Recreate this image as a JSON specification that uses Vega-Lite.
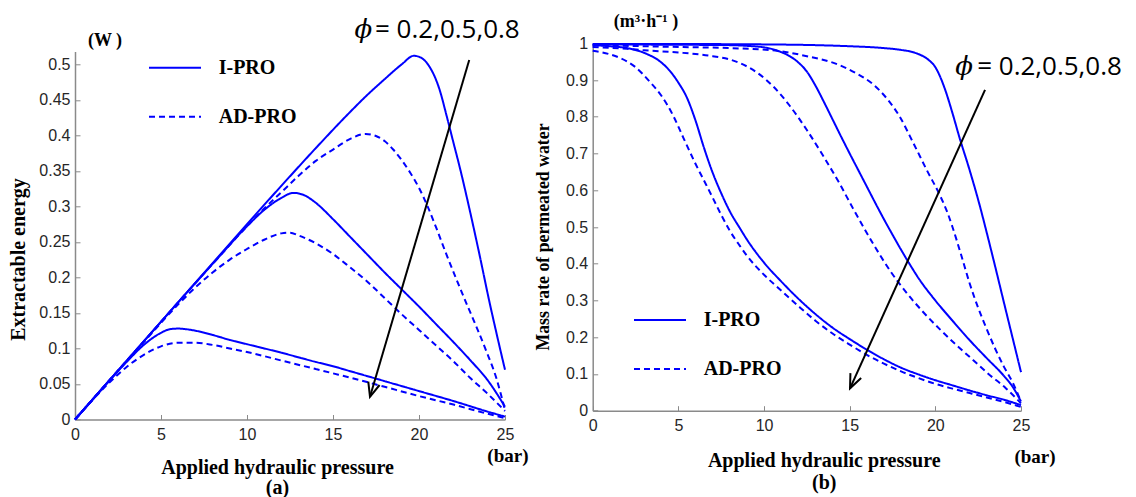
{
  "$schema": "https://vega.github.io/schema/vega-lite/v6.json",
  "width": 946,
  "height": 376.2,
  "autosize": {"type": "none"},
  "padding": {"left": 75, "top": 43.3, "right": 115, "bottom": 77.5},
  "background": "white",
  "config": {
    "view": {"stroke": null},
    "axis": {
      "grid": false,
      "domainColor": "#8a8a8a",
      "domainWidth": 1.5,
      "tickColor": "#8a8a8a",
      "tickWidth": 1,
      "tickSize": -5,
      "labelFont": "Liberation Sans",
      "labelFontSize": 16,
      "labelColor": "#262626",
      "labelFlush": false,
      "labelOverlap": false,
      "titleFont": "Liberation Serif",
      "titleFontWeight": "bold",
      "titleColor": "#000000"
    },
    "legend": {
      "labelFont": "Liberation Serif",
      "labelFontWeight": "bold",
      "labelFontSize": 20,
      "labelColor": "#000000"
    }
  },
  "datasets": {
    "energy": [
      {"type":"I-PRO","phi":0.2,"x":0,"y":0},{"type":"I-PRO","phi":0.2,"x":1,"y":0.0275},{"type":"I-PRO","phi":0.2,"x":2,"y":0.055},{"type":"I-PRO","phi":0.2,"x":3,"y":0.081},{"type":"I-PRO","phi":0.2,"x":4,"y":0.105},{"type":"I-PRO","phi":0.2,"x":5,"y":0.122},{"type":"I-PRO","phi":0.2,"x":5.5,"y":0.127},{"type":"I-PRO","phi":0.2,"x":6,"y":0.128},{"type":"I-PRO","phi":0.2,"x":6.5,"y":0.127},{"type":"I-PRO","phi":0.2,"x":7,"y":0.125},{"type":"I-PRO","phi":0.2,"x":8,"y":0.119},{"type":"I-PRO","phi":0.2,"x":9,"y":0.112},{"type":"I-PRO","phi":0.2,"x":10,"y":0.106},{"type":"I-PRO","phi":0.2,"x":12,"y":0.094},{"type":"I-PRO","phi":0.2,"x":14,"y":0.081},{"type":"I-PRO","phi":0.2,"x":15,"y":0.075},{"type":"I-PRO","phi":0.2,"x":16,"y":0.068},{"type":"I-PRO","phi":0.2,"x":18,"y":0.054},{"type":"I-PRO","phi":0.2,"x":20,"y":0.04},{"type":"I-PRO","phi":0.2,"x":22,"y":0.026},{"type":"I-PRO","phi":0.2,"x":24,"y":0.011},{"type":"I-PRO","phi":0.2,"x":25,"y":0.004},
      {"type":"AD-PRO","phi":0.2,"x":0,"y":0},{"type":"AD-PRO","phi":0.2,"x":1,"y":0.027},{"type":"AD-PRO","phi":0.2,"x":2,"y":0.052},{"type":"AD-PRO","phi":0.2,"x":3,"y":0.074},{"type":"AD-PRO","phi":0.2,"x":4,"y":0.091},{"type":"AD-PRO","phi":0.2,"x":5,"y":0.103},{"type":"AD-PRO","phi":0.2,"x":6,"y":0.108},{"type":"AD-PRO","phi":0.2,"x":7,"y":0.108},{"type":"AD-PRO","phi":0.2,"x":8,"y":0.105},{"type":"AD-PRO","phi":0.2,"x":9,"y":0.1},{"type":"AD-PRO","phi":0.2,"x":10,"y":0.095},{"type":"AD-PRO","phi":0.2,"x":12,"y":0.083},{"type":"AD-PRO","phi":0.2,"x":14,"y":0.071},{"type":"AD-PRO","phi":0.2,"x":15,"y":0.065},{"type":"AD-PRO","phi":0.2,"x":16,"y":0.059},{"type":"AD-PRO","phi":0.2,"x":18,"y":0.046},{"type":"AD-PRO","phi":0.2,"x":20,"y":0.033},{"type":"AD-PRO","phi":0.2,"x":22,"y":0.021},{"type":"AD-PRO","phi":0.2,"x":24,"y":0.008},{"type":"AD-PRO","phi":0.2,"x":25,"y":0.002},
      {"type":"I-PRO","phi":0.5,"x":0,"y":0},{"type":"I-PRO","phi":0.5,"x":2,"y":0.055},{"type":"I-PRO","phi":0.5,"x":4,"y":0.11},{"type":"I-PRO","phi":0.5,"x":6,"y":0.165},{"type":"I-PRO","phi":0.5,"x":8,"y":0.219},{"type":"I-PRO","phi":0.5,"x":10,"y":0.272},{"type":"I-PRO","phi":0.5,"x":11,"y":0.295},{"type":"I-PRO","phi":0.5,"x":12,"y":0.312},{"type":"I-PRO","phi":0.5,"x":12.7,"y":0.319},{"type":"I-PRO","phi":0.5,"x":13.3,"y":0.316},{"type":"I-PRO","phi":0.5,"x":14,"y":0.305},{"type":"I-PRO","phi":0.5,"x":15,"y":0.282},{"type":"I-PRO","phi":0.5,"x":16,"y":0.257},{"type":"I-PRO","phi":0.5,"x":17,"y":0.232},{"type":"I-PRO","phi":0.5,"x":18,"y":0.207},{"type":"I-PRO","phi":0.5,"x":19,"y":0.183},{"type":"I-PRO","phi":0.5,"x":20,"y":0.159},{"type":"I-PRO","phi":0.5,"x":21,"y":0.134},{"type":"I-PRO","phi":0.5,"x":22,"y":0.109},{"type":"I-PRO","phi":0.5,"x":23,"y":0.083},{"type":"I-PRO","phi":0.5,"x":24,"y":0.055},{"type":"I-PRO","phi":0.5,"x":25,"y":0.018},
      {"type":"AD-PRO","phi":0.5,"x":0,"y":0},{"type":"AD-PRO","phi":0.5,"x":2,"y":0.055},{"type":"AD-PRO","phi":0.5,"x":4,"y":0.109},{"type":"AD-PRO","phi":0.5,"x":6,"y":0.162},{"type":"AD-PRO","phi":0.5,"x":7,"y":0.186},{"type":"AD-PRO","phi":0.5,"x":8,"y":0.207},{"type":"AD-PRO","phi":0.5,"x":9,"y":0.225},{"type":"AD-PRO","phi":0.5,"x":10,"y":0.24},{"type":"AD-PRO","phi":0.5,"x":11,"y":0.253},{"type":"AD-PRO","phi":0.5,"x":12,"y":0.262},{"type":"AD-PRO","phi":0.5,"x":12.5,"y":0.263},{"type":"AD-PRO","phi":0.5,"x":13,"y":0.259},{"type":"AD-PRO","phi":0.5,"x":14,"y":0.248},{"type":"AD-PRO","phi":0.5,"x":15,"y":0.233},{"type":"AD-PRO","phi":0.5,"x":16,"y":0.214},{"type":"AD-PRO","phi":0.5,"x":17,"y":0.194},{"type":"AD-PRO","phi":0.5,"x":18,"y":0.171},{"type":"AD-PRO","phi":0.5,"x":19,"y":0.148},{"type":"AD-PRO","phi":0.5,"x":20,"y":0.126},{"type":"AD-PRO","phi":0.5,"x":21,"y":0.104},{"type":"AD-PRO","phi":0.5,"x":22,"y":0.082},{"type":"AD-PRO","phi":0.5,"x":23,"y":0.058},{"type":"AD-PRO","phi":0.5,"x":24,"y":0.036},{"type":"AD-PRO","phi":0.5,"x":25,"y":0.012},
      {"type":"I-PRO","phi":0.8,"x":0,"y":0},{"type":"I-PRO","phi":0.8,"x":2,"y":0.055},{"type":"I-PRO","phi":0.8,"x":4,"y":0.11},{"type":"I-PRO","phi":0.8,"x":6,"y":0.165},{"type":"I-PRO","phi":0.8,"x":8,"y":0.22},{"type":"I-PRO","phi":0.8,"x":10,"y":0.275},{"type":"I-PRO","phi":0.8,"x":12,"y":0.329},{"type":"I-PRO","phi":0.8,"x":14,"y":0.382},{"type":"I-PRO","phi":0.8,"x":16,"y":0.433},{"type":"I-PRO","phi":0.8,"x":17,"y":0.457},{"type":"I-PRO","phi":0.8,"x":18,"y":0.479},{"type":"I-PRO","phi":0.8,"x":19,"y":0.5},{"type":"I-PRO","phi":0.8,"x":19.7,"y":0.512},{"type":"I-PRO","phi":0.8,"x":20.2,"y":0.508},{"type":"I-PRO","phi":0.8,"x":20.6,"y":0.497},{"type":"I-PRO","phi":0.8,"x":21.2,"y":0.464},{"type":"I-PRO","phi":0.8,"x":21.6,"y":0.428},{"type":"I-PRO","phi":0.8,"x":22,"y":0.39},{"type":"I-PRO","phi":0.8,"x":22.4,"y":0.352},{"type":"I-PRO","phi":0.8,"x":22.9,"y":0.3},{"type":"I-PRO","phi":0.8,"x":23.5,"y":0.234},{"type":"I-PRO","phi":0.8,"x":24.1,"y":0.165},{"type":"I-PRO","phi":0.8,"x":24.5,"y":0.122},{"type":"I-PRO","phi":0.8,"x":25,"y":0.07},
      {"type":"AD-PRO","phi":0.8,"x":0,"y":0},{"type":"AD-PRO","phi":0.8,"x":2,"y":0.055},{"type":"AD-PRO","phi":0.8,"x":4,"y":0.11},{"type":"AD-PRO","phi":0.8,"x":6,"y":0.165},{"type":"AD-PRO","phi":0.8,"x":8,"y":0.219},{"type":"AD-PRO","phi":0.8,"x":10,"y":0.272},{"type":"AD-PRO","phi":0.8,"x":11,"y":0.297},{"type":"AD-PRO","phi":0.8,"x":12,"y":0.32},{"type":"AD-PRO","phi":0.8,"x":13,"y":0.343},{"type":"AD-PRO","phi":0.8,"x":14,"y":0.364},{"type":"AD-PRO","phi":0.8,"x":15,"y":0.38},{"type":"AD-PRO","phi":0.8,"x":16,"y":0.395},{"type":"AD-PRO","phi":0.8,"x":16.9,"y":0.402},{"type":"AD-PRO","phi":0.8,"x":17.5,"y":0.399},{"type":"AD-PRO","phi":0.8,"x":18,"y":0.392},{"type":"AD-PRO","phi":0.8,"x":18.5,"y":0.38},{"type":"AD-PRO","phi":0.8,"x":19,"y":0.365},{"type":"AD-PRO","phi":0.8,"x":19.5,"y":0.347},{"type":"AD-PRO","phi":0.8,"x":20,"y":0.326},{"type":"AD-PRO","phi":0.8,"x":20.5,"y":0.3},{"type":"AD-PRO","phi":0.8,"x":21,"y":0.27},{"type":"AD-PRO","phi":0.8,"x":21.6,"y":0.232},{"type":"AD-PRO","phi":0.8,"x":22.2,"y":0.196},{"type":"AD-PRO","phi":0.8,"x":22.8,"y":0.161},{"type":"AD-PRO","phi":0.8,"x":23.4,"y":0.127},{"type":"AD-PRO","phi":0.8,"x":23.9,"y":0.097},{"type":"AD-PRO","phi":0.8,"x":24.5,"y":0.058},{"type":"AD-PRO","phi":0.8,"x":25,"y":0.013}
    ],
    "flow": [
      {"type":"I-PRO","phi":0.2,"x":0,"y":0.995},{"type":"I-PRO","phi":0.2,"x":1,"y":0.992},{"type":"I-PRO","phi":0.2,"x":2,"y":0.987},{"type":"I-PRO","phi":0.2,"x":3,"y":0.974},{"type":"I-PRO","phi":0.2,"x":4,"y":0.948},{"type":"I-PRO","phi":0.2,"x":4.5,"y":0.925},{"type":"I-PRO","phi":0.2,"x":5,"y":0.893},{"type":"I-PRO","phi":0.2,"x":5.5,"y":0.852},{"type":"I-PRO","phi":0.2,"x":6,"y":0.79},{"type":"I-PRO","phi":0.2,"x":6.5,"y":0.715},{"type":"I-PRO","phi":0.2,"x":7,"y":0.648},{"type":"I-PRO","phi":0.2,"x":7.5,"y":0.592},{"type":"I-PRO","phi":0.2,"x":8,"y":0.543},{"type":"I-PRO","phi":0.2,"x":8.6,"y":0.496},{"type":"I-PRO","phi":0.2,"x":9,"y":0.466},{"type":"I-PRO","phi":0.2,"x":10,"y":0.403},{"type":"I-PRO","phi":0.2,"x":11,"y":0.352},{"type":"I-PRO","phi":0.2,"x":12,"y":0.305},{"type":"I-PRO","phi":0.2,"x":13,"y":0.263},{"type":"I-PRO","phi":0.2,"x":14,"y":0.226},{"type":"I-PRO","phi":0.2,"x":15,"y":0.195},{"type":"I-PRO","phi":0.2,"x":16,"y":0.166},{"type":"I-PRO","phi":0.2,"x":17,"y":0.14},{"type":"I-PRO","phi":0.2,"x":18,"y":0.117},{"type":"I-PRO","phi":0.2,"x":19,"y":0.099},{"type":"I-PRO","phi":0.2,"x":20,"y":0.083},{"type":"I-PRO","phi":0.2,"x":21,"y":0.069},{"type":"I-PRO","phi":0.2,"x":22,"y":0.055},{"type":"I-PRO","phi":0.2,"x":23,"y":0.042},{"type":"I-PRO","phi":0.2,"x":24,"y":0.03},{"type":"I-PRO","phi":0.2,"x":25,"y":0.015},
      {"type":"AD-PRO","phi":0.2,"x":0,"y":0.98},{"type":"AD-PRO","phi":0.2,"x":1,"y":0.97},{"type":"AD-PRO","phi":0.2,"x":1.6,"y":0.96},{"type":"AD-PRO","phi":0.2,"x":2.5,"y":0.935},{"type":"AD-PRO","phi":0.2,"x":3.3,"y":0.897},{"type":"AD-PRO","phi":0.2,"x":4,"y":0.858},{"type":"AD-PRO","phi":0.2,"x":4.7,"y":0.803},{"type":"AD-PRO","phi":0.2,"x":5.3,"y":0.742},{"type":"AD-PRO","phi":0.2,"x":6,"y":0.672},{"type":"AD-PRO","phi":0.2,"x":6.6,"y":0.617},{"type":"AD-PRO","phi":0.2,"x":7,"y":0.58},{"type":"AD-PRO","phi":0.2,"x":7.5,"y":0.533},{"type":"AD-PRO","phi":0.2,"x":8,"y":0.49},{"type":"AD-PRO","phi":0.2,"x":8.6,"y":0.448},{"type":"AD-PRO","phi":0.2,"x":9,"y":0.422},{"type":"AD-PRO","phi":0.2,"x":10,"y":0.37},{"type":"AD-PRO","phi":0.2,"x":11,"y":0.327},{"type":"AD-PRO","phi":0.2,"x":12,"y":0.285},{"type":"AD-PRO","phi":0.2,"x":13,"y":0.245},{"type":"AD-PRO","phi":0.2,"x":14,"y":0.21},{"type":"AD-PRO","phi":0.2,"x":15,"y":0.18},{"type":"AD-PRO","phi":0.2,"x":16,"y":0.152},{"type":"AD-PRO","phi":0.2,"x":17,"y":0.128},{"type":"AD-PRO","phi":0.2,"x":18,"y":0.107},{"type":"AD-PRO","phi":0.2,"x":19,"y":0.089},{"type":"AD-PRO","phi":0.2,"x":20,"y":0.073},{"type":"AD-PRO","phi":0.2,"x":21,"y":0.06},{"type":"AD-PRO","phi":0.2,"x":22,"y":0.048},{"type":"AD-PRO","phi":0.2,"x":23,"y":0.036},{"type":"AD-PRO","phi":0.2,"x":24,"y":0.024},{"type":"AD-PRO","phi":0.2,"x":25,"y":0.01},
      {"type":"I-PRO","phi":0.5,"x":0,"y":0.997},{"type":"I-PRO","phi":0.5,"x":5,"y":0.996},{"type":"I-PRO","phi":0.5,"x":8,"y":0.995},{"type":"I-PRO","phi":0.5,"x":9,"y":0.993},{"type":"I-PRO","phi":0.5,"x":10,"y":0.989},{"type":"I-PRO","phi":0.5,"x":10.5,"y":0.984},{"type":"I-PRO","phi":0.5,"x":11,"y":0.976},{"type":"I-PRO","phi":0.5,"x":11.5,"y":0.965},{"type":"I-PRO","phi":0.5,"x":12,"y":0.948},{"type":"I-PRO","phi":0.5,"x":12.5,"y":0.923},{"type":"I-PRO","phi":0.5,"x":13,"y":0.885},{"type":"I-PRO","phi":0.5,"x":13.5,"y":0.84},{"type":"I-PRO","phi":0.5,"x":14,"y":0.793},{"type":"I-PRO","phi":0.5,"x":14.5,"y":0.746},{"type":"I-PRO","phi":0.5,"x":15,"y":0.7},{"type":"I-PRO","phi":0.5,"x":15.5,"y":0.655},{"type":"I-PRO","phi":0.5,"x":16,"y":0.61},{"type":"I-PRO","phi":0.5,"x":16.5,"y":0.565},{"type":"I-PRO","phi":0.5,"x":17,"y":0.521},{"type":"I-PRO","phi":0.5,"x":17.5,"y":0.479},{"type":"I-PRO","phi":0.5,"x":18,"y":0.438},{"type":"I-PRO","phi":0.5,"x":18.5,"y":0.399},{"type":"I-PRO","phi":0.5,"x":19,"y":0.362},{"type":"I-PRO","phi":0.5,"x":20,"y":0.3},{"type":"I-PRO","phi":0.5,"x":21,"y":0.245},{"type":"I-PRO","phi":0.5,"x":22,"y":0.192},{"type":"I-PRO","phi":0.5,"x":23,"y":0.143},{"type":"I-PRO","phi":0.5,"x":24,"y":0.095},{"type":"I-PRO","phi":0.5,"x":24.5,"y":0.066},{"type":"I-PRO","phi":0.5,"x":25,"y":0.025},
      {"type":"AD-PRO","phi":0.5,"x":0,"y":0.99},{"type":"AD-PRO","phi":0.5,"x":2,"y":0.985},{"type":"AD-PRO","phi":0.5,"x":3,"y":0.981},{"type":"AD-PRO","phi":0.5,"x":5,"y":0.975},{"type":"AD-PRO","phi":0.5,"x":7,"y":0.965},{"type":"AD-PRO","phi":0.5,"x":8,"y":0.956},{"type":"AD-PRO","phi":0.5,"x":8.6,"y":0.946},{"type":"AD-PRO","phi":0.5,"x":9.6,"y":0.92},{"type":"AD-PRO","phi":0.5,"x":10.55,"y":0.882},{"type":"AD-PRO","phi":0.5,"x":11.5,"y":0.83},{"type":"AD-PRO","phi":0.5,"x":12.5,"y":0.764},{"type":"AD-PRO","phi":0.5,"x":13.5,"y":0.69},{"type":"AD-PRO","phi":0.5,"x":14.4,"y":0.619},{"type":"AD-PRO","phi":0.5,"x":15.2,"y":0.55},{"type":"AD-PRO","phi":0.5,"x":15.8,"y":0.5},{"type":"AD-PRO","phi":0.5,"x":16.4,"y":0.452},{"type":"AD-PRO","phi":0.5,"x":17.4,"y":0.378},{"type":"AD-PRO","phi":0.5,"x":18.3,"y":0.322},{"type":"AD-PRO","phi":0.5,"x":19.3,"y":0.268},{"type":"AD-PRO","phi":0.5,"x":20.3,"y":0.22},{"type":"AD-PRO","phi":0.5,"x":21.2,"y":0.18},{"type":"AD-PRO","phi":0.5,"x":22.2,"y":0.138},{"type":"AD-PRO","phi":0.5,"x":23.1,"y":0.1},{"type":"AD-PRO","phi":0.5,"x":24.1,"y":0.062},{"type":"AD-PRO","phi":0.5,"x":25,"y":0.02},
      {"type":"I-PRO","phi":0.8,"x":0,"y":0.998},{"type":"I-PRO","phi":0.8,"x":5,"y":0.998},{"type":"I-PRO","phi":0.8,"x":10,"y":0.997},{"type":"I-PRO","phi":0.8,"x":13,"y":0.995},{"type":"I-PRO","phi":0.8,"x":15,"y":0.992},{"type":"I-PRO","phi":0.8,"x":17,"y":0.987},{"type":"I-PRO","phi":0.8,"x":18,"y":0.982},{"type":"I-PRO","phi":0.8,"x":18.6,"y":0.977},{"type":"I-PRO","phi":0.8,"x":19.1,"y":0.969},{"type":"I-PRO","phi":0.8,"x":19.6,"y":0.955},{"type":"I-PRO","phi":0.8,"x":20,"y":0.935},{"type":"I-PRO","phi":0.8,"x":20.3,"y":0.907},{"type":"I-PRO","phi":0.8,"x":20.6,"y":0.87},{"type":"I-PRO","phi":0.8,"x":21,"y":0.81},{"type":"I-PRO","phi":0.8,"x":21.4,"y":0.745},{"type":"I-PRO","phi":0.8,"x":22,"y":0.655},{"type":"I-PRO","phi":0.8,"x":22.6,"y":0.557},{"type":"I-PRO","phi":0.8,"x":22.9,"y":0.503},{"type":"I-PRO","phi":0.8,"x":23.4,"y":0.41},{"type":"I-PRO","phi":0.8,"x":24.1,"y":0.276},{"type":"I-PRO","phi":0.8,"x":24.5,"y":0.2},{"type":"I-PRO","phi":0.8,"x":25,"y":0.105},
      {"type":"AD-PRO","phi":0.8,"x":0,"y":0.995},{"type":"AD-PRO","phi":0.8,"x":5,"y":0.99},{"type":"AD-PRO","phi":0.8,"x":8,"y":0.987},{"type":"AD-PRO","phi":0.8,"x":10.5,"y":0.981},{"type":"AD-PRO","phi":0.8,"x":12.5,"y":0.965},{"type":"AD-PRO","phi":0.8,"x":14.1,"y":0.946},{"type":"AD-PRO","phi":0.8,"x":15.4,"y":0.918},{"type":"AD-PRO","phi":0.8,"x":16.4,"y":0.887},{"type":"AD-PRO","phi":0.8,"x":17.2,"y":0.848},{"type":"AD-PRO","phi":0.8,"x":17.9,"y":0.802},{"type":"AD-PRO","phi":0.8,"x":18.7,"y":0.73},{"type":"AD-PRO","phi":0.8,"x":19.5,"y":0.655},{"type":"AD-PRO","phi":0.8,"x":20.3,"y":0.583},{"type":"AD-PRO","phi":0.8,"x":20.7,"y":0.54},{"type":"AD-PRO","phi":0.8,"x":21,"y":0.5},{"type":"AD-PRO","phi":0.8,"x":21.5,"y":0.425},{"type":"AD-PRO","phi":0.8,"x":22,"y":0.347},{"type":"AD-PRO","phi":0.8,"x":22.5,"y":0.28},{"type":"AD-PRO","phi":0.8,"x":23,"y":0.222},{"type":"AD-PRO","phi":0.8,"x":23.5,"y":0.168},{"type":"AD-PRO","phi":0.8,"x":24,"y":0.12},{"type":"AD-PRO","phi":0.8,"x":24.5,"y":0.078},{"type":"AD-PRO","phi":0.8,"x":25,"y":0.025}
    ]
  },
  "layer": [
    {
      "layer": [
        {
          "data": {"name": "energy"},
          "mark": {"type": "line", "color": "#0000ff", "strokeWidth": 2, "interpolate": "monotone"},
          "encoding": {
            "x": {"field": "x", "type": "quantitative",
              "scale": {"domain": [0, 25], "range": [0, 430], "nice": false},
              "axis": {"orient": "bottom", "values": [0, 5, 10, 15, 20, 25], "tickCount": 30, "labelPadding": 12, "labelOverlap": false, "labelFlush": false,
                "title": ["Applied hydraulic pressure", "(a)"], "titleFontSize": 20, "titleX": 202, "titleY": 54,
                "titleBaseline": "alphabetic", "titleAlign": "center", "titleLineHeight": 20}},
            "y": {"field": "y", "type": "quantitative",
              "scale": {"domain": [0, 0.518], "range": [376.2, 8.2], "nice": false, "zero": false},
              "axis": {"orient": "left", "values": [0, 0.05, 0.1, 0.15, 0.2, 0.25, 0.3, 0.35, 0.4, 0.45, 0.5], "tickCount": 30, "format": "~g", "labelPadding": 10, "labelOverlap": false,
                "title": "Extractable energy", "titleFontSize": 20, "titleX": -56.7, "titleY": 215.7,
                "titleAngle": 270, "titleBaseline": "middle", "titleAlign": "center"}},
            "strokeDash": {"field": "type", "type": "nominal",
              "scale": {"domain": ["I-PRO", "AD-PRO"], "range": [[1, 0], [6, 4]]},
              "legend": {"orient": "none", "legendX": 73, "legendY": -2.6, "title": null, "padding": 0,
                "symbolType": "stroke", "symbolSize": 2704, "symbolStrokeColor": "#0000ff", "symbolStrokeWidth": 2,
                "labelOffset": 16.7, "rowPadding": 12}},
            "detail": {"field": "phi", "type": "nominal"}
          }
        },
        {
          "data": {"values": [{}]},
          "mark": {"type": "rule", "color": "#000000", "strokeWidth": 2},
          "encoding": {
            "x": {"datum": 22.92, "type": "quantitative"}, "y": {"datum": 0.506, "type": "quantitative"},
            "x2": {"datum": 17.15}, "y2": {"datum": 0.032}
          }
        },
        {
          "data": {"values": [{}]},
          "mark": {"type": "point", "shape": "M-0.42,-1L0,0L0.42,-1", "filled": false, "stroke": "#000000", "strokeWidth": 2, "size": 784, "angle": 16.4, "opacity": 1},
          "encoding": {"x": {"datum": 17.15, "type": "quantitative"}, "y": {"datum": 0.032, "type": "quantitative"}}
        },
        {
          "data": {"values": [{}]},
          "mark": {"type": "text", "text": "ϕ", "font": "DejaVu Serif", "fontStyle": "italic", "fontSize": 26, "align": "center", "baseline": "alphabetic", "color": "#000000"},
          "encoding": {"x": {"datum": 16.77, "type": "quantitative"}, "y": {"datum": 0.537, "type": "quantitative"}}
        },
        {
          "data": {"values": [{}]},
          "mark": {"type": "text", "text": "= 0.2,0.5,0.8", "font": "Open Sans", "fontSize": 26, "align": "left", "baseline": "alphabetic", "color": "#000000"},
          "encoding": {"x": {"datum": 17.44, "type": "quantitative"}, "y": {"datum": 0.537, "type": "quantitative"}}
        },
        {
          "data": {"values": [{}]},
          "mark": {"type": "text", "text": "(W )", "font": "Liberation Serif", "fontWeight": "bold", "fontSize": 18, "align": "center", "baseline": "alphabetic", "color": "#000000"},
          "encoding": {"x": {"datum": 1.744, "type": "quantitative"}, "y": {"datum": 0.526, "type": "quantitative"}}
        },
        {
          "data": {"values": [{}]},
          "mark": {"type": "text", "text": "(bar)", "font": "Liberation Serif", "fontWeight": "bold", "fontSize": 19, "align": "center", "baseline": "alphabetic", "color": "#000000"},
          "encoding": {"x": {"datum": 25.17, "type": "quantitative"}, "y": {"datum": -0.06, "type": "quantitative"}}
        }
      ]
    },
    {
      "layer": [
        {
          "data": {"name": "flow"},
          "mark": {"type": "line", "color": "#0000ff", "strokeWidth": 2, "interpolate": "monotone"},
          "encoding": {
            "x": {"field": "x", "type": "quantitative",
              "scale": {"domain": [0, 25], "range": [517.7, 946], "nice": false},
              "axis": {"orient": "bottom", "offset": -8.8, "values": [0, 5, 10, 15, 20, 25], "tickCount": 30, "labelPadding": 12, "labelOverlap": false, "labelFlush": false,
                "title": ["Applied hydraulic pressure", "(b)"], "titleFontSize": 20, "titleX": 748.7, "titleY": 56,
                "titleBaseline": "alphabetic", "titleAlign": "center", "titleLineHeight": 22}},
            "y": {"field": "y", "type": "quantitative",
              "scale": {"domain": [0, 1], "range": [367.4, 0], "nice": false, "zero": false},
              "axis": {"orient": "left", "offset": -517.7, "values": [0, 0.1, 0.2, 0.3, 0.4, 0.5, 0.6, 0.7, 0.8, 0.9, 1], "tickCount": 30, "format": "~g", "labelPadding": 10, "labelOverlap": false,
                "title": "Mass rate of permeated water", "titleFontSize": 17.8, "titleX": -49.7, "titleY": 193.2,
                "titleAngle": 270, "titleBaseline": "middle", "titleAlign": "center"}},
            "strokeDash": {"field": "type", "type": "nominal",
              "scale": {"domain": ["I-PRO", "AD-PRO"], "range": [[1, 0], [6, 4]]},
              "legend": {"orient": "none", "legendX": 558, "legendY": 249.7, "title": null, "padding": 0,
                "symbolType": "stroke", "symbolSize": 2704, "symbolStrokeColor": "#0000ff", "symbolStrokeWidth": 2,
                "labelOffset": 16.7, "rowPadding": 12}},
            "detail": {"field": "phi", "type": "nominal"}
          }
        },
        {
          "data": {"values": [{}]},
          "mark": {"type": "rule", "color": "#000000", "strokeWidth": 2},
          "encoding": {
            "x": {"datum": 22.9, "type": "quantitative"}, "y": {"datum": 0.873, "type": "quantitative"},
            "x2": {"datum": 15.02}, "y2": {"datum": 0.061}
          }
        },
        {
          "data": {"values": [{}]},
          "mark": {"type": "point", "shape": "M-0.42,-1L0,0L0.42,-1", "filled": false, "stroke": "#000000", "strokeWidth": 2, "size": 784, "angle": 24.3, "opacity": 1},
          "encoding": {"x": {"datum": 15.02, "type": "quantitative"}, "y": {"datum": 0.061, "type": "quantitative"}}
        },
        {
          "data": {"values": [{}]},
          "mark": {"type": "text", "text": "ϕ", "font": "DejaVu Serif", "fontStyle": "italic", "fontSize": 26, "align": "center", "baseline": "alphabetic", "color": "#000000"},
          "encoding": {"x": {"datum": 21.68, "type": "quantitative"}, "y": {"datum": 0.914, "type": "quantitative"}}
        },
        {
          "data": {"values": [{}]},
          "mark": {"type": "text", "text": "= 0.2,0.5,0.8", "font": "Open Sans", "fontSize": 26, "align": "left", "baseline": "alphabetic", "color": "#000000"},
          "encoding": {"x": {"datum": 22.44, "type": "quantitative"}, "y": {"datum": 0.914, "type": "quantitative"}}
        },
        {
          "data": {"values": [{}]},
          "mark": {"type": "text", "text": "(m³·h⁻¹ )", "font": "Liberation Serif", "fontWeight": "bold", "fontSize": 18, "align": "center", "baseline": "alphabetic", "color": "#000000"},
          "encoding": {"x": {"datum": 3.11, "type": "quantitative"}, "y": {"datum": 1.044, "type": "quantitative"}}
        },
        {
          "data": {"values": [{}]},
          "mark": {"type": "text", "text": "(bar)", "font": "Liberation Serif", "fontWeight": "bold", "fontSize": 19, "align": "center", "baseline": "alphabetic", "color": "#000000"},
          "encoding": {"x": {"datum": 25.82, "type": "quantitative"}, "y": {"datum": -0.1424, "type": "quantitative"}}
        }
      ]
    }
  ],
  "resolve": {
    "scale": {"x": "independent", "y": "independent", "strokeDash": "independent"},
    "axis": {"x": "independent", "y": "independent"},
    "legend": {"strokeDash": "independent"}
  }
}
